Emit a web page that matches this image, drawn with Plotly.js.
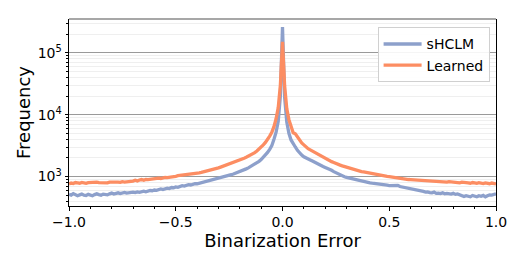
<!DOCTYPE html>
<html>
<head>
<meta charset="utf-8">
<script src="https://cdn.plot.ly/plotly-3.0.1.min.js"></script>
<style>html,body{margin:0;padding:0;background:#fff;}#chart{width:526px;height:263px;}</style>
</head>
<body>
<div id="chart"></div>
<script>
// Bin centres of the histogram: -1.00 .. 1.00, step 0.01
const binCenters = [];
for (let i = 0; i <= 200; i++) binCenters.push(Math.round((-1 + 0.01 * i) * 100) / 100);

const seriesNames = ["sHCLM", "Learned"];

// sHCLM frequency per bin
const sHCLM = [
  520,500,530,510,490,505,520,500,495,515,
  505,490,510,525,510,500,520,515,505,525,
  540,520,530,545,530,540,555,540,550,545,
  560,550,565,555,570,580,565,585,595,590,
  605,600,620,630,615,640,650,640,665,660,
  680,670,695,710,700,725,740,730,755,765,
  765,780,795,810,825,845,860,875,895,915,
  935,955,975,1000,1020,1045,1070,1100,1130,1165,
  1200,1240,1280,1330,1380,1440,1500,1580,1660,1760,
  1880,2030,2220,2450,2750,3150,4000,5200,7800,20000,
  260000,
  19000,7600,5000,3900,3300,3000,2650,2400,2220,2080,
  1980,1900,1850,1780,1700,1630,1560,1500,1450,1400,
  1360,1320,1260,1200,1150,1100,1060,1020,990,970,
  950,930,905,890,870,850,835,820,815,800,
  790,780,775,765,750,745,740,730,725,715,
  720,705,710,720,690,680,670,655,645,630,
  625,610,600,590,580,575,560,565,550,545,
  560,535,540,530,545,525,535,530,520,535,
  515,525,510,490,475,490,480,470,495,485,
  470,490,480,495,470,490,505,500,520,525
];

// Learned frequency per bin
const learned = [
  760,785,770,800,790,780,805,790,775,795,
  800,785,790,810,795,790,805,800,790,810,
  815,800,820,810,805,825,815,820,850,830,
  845,870,850,880,895,870,900,890,905,920,
  910,925,940,930,950,965,960,980,995,1000,
  1010,1030,1040,1050,1065,1060,1085,1100,1110,1120,
  1140,1150,1170,1190,1220,1240,1265,1300,1320,1350,
  1380,1420,1460,1500,1540,1590,1640,1690,1740,1800,
  1850,1910,1980,2050,2130,2220,2320,2430,2580,2760,
  2980,3250,3560,3950,4500,5200,6400,8600,13000,30000,
  150000,
  29000,12500,8300,6200,5100,4900,4300,3850,3500,3250,
  3000,2820,2700,2580,2440,2330,2220,2120,2030,1950,
  1880,1820,1740,1690,1620,1580,1530,1490,1450,1420,
  1380,1340,1310,1280,1260,1230,1200,1185,1165,1150,
  1130,1120,1110,1090,1070,1050,1040,1030,1010,1000,
  985,970,955,945,930,925,915,905,895,890,
  885,870,880,860,855,865,850,840,850,835,
  830,840,825,815,830,820,810,825,815,805,
  820,800,790,810,795,805,790,780,800,790,
  775,795,785,770,790,780,765,785,775,760
];

const yTickVals = [1000, 10000, 100000];
const yTickText = ["10<sup>3</sup>", "10<sup>4</sup>", "10<sup>5</sup>"];
const xTickVals = [-1, -0.5, 0, 0.5, 1];
const xTickText = ["\u22121.0", "\u22120.5", "0.0", "0.5", "1.0"];

const font = "DejaVu Sans, Arial, sans-serif";

const traces = [
  {x: binCenters, y: sHCLM, name: seriesNames[0], type: "scatter", mode: "lines",
   line: {color: "#8da0cb", width: 3.3}},
  {x: binCenters, y: learned, name: seriesNames[1], type: "scatter", mode: "lines",
   line: {color: "#fc8d62", width: 3.3}}
];

const layout = {
  width: 526, height: 263,
  margin: {l: 69, r: 30, t: 19, b: 57},
  paper_bgcolor: "#fff", plot_bgcolor: "#fff",
  font: {family: font, size: 14, color: "#000"},
  showlegend: true,
  legend: {x: 0.985, y: 0.955, xanchor: "right", yanchor: "top",
           bgcolor: "rgba(255,255,255,0.9)", bordercolor: "#d0d0d0", borderwidth: 1,
           font: {family: font, size: 14}, itemwidth: 38},
  xaxis: {
    range: [-1, 1], tickvals: xTickVals, ticktext: xTickText,
    showgrid: false, zeroline: false, showline: true, linecolor: "#000", linewidth: 1,
    ticks: "outside", ticklen: 3.5, tickcolor: "#000",
    minor: {dtick: 0.1, ticks: "outside", ticklen: 2, tickcolor: "#000", showgrid: false},
    tickfont: {family: font, size: 14},
    title: {text: "Binarization Error", font: {family: font, size: 18}, standoff: 0}
  },
  yaxis: {
    type: "log", range: [2.524, 5.545], tickvals: yTickVals, ticktext: yTickText,
    showgrid: true, gridcolor: "#9a9a9a", gridwidth: 1.2,
    zeroline: false, showline: true, linecolor: "#000", linewidth: 1, mirror: true,
    ticks: "outside", ticklen: 3.5, tickcolor: "#000",
    minor: {dtick: "D1", ticks: "outside", ticklen: 2, tickcolor: "#000",
            showgrid: true, gridcolor: "#ebebeb", gridwidth: 0.8},
    tickfont: {family: font, size: 14},
    title: {text: "Frequency", font: {family: font, size: 18}, standoff: 2}
  },
  shapes: [
    {type: "line", xref: "paper", yref: "paper", x0: 0, x1: 1, y0: 1, y1: 1,
     line: {color: "#8a8a8a", width: 1.5}}
  ]
};

Plotly.newPlot("chart", traces, layout, {staticPlot: true, displayModeBar: false});
</script>
</body>
</html>
